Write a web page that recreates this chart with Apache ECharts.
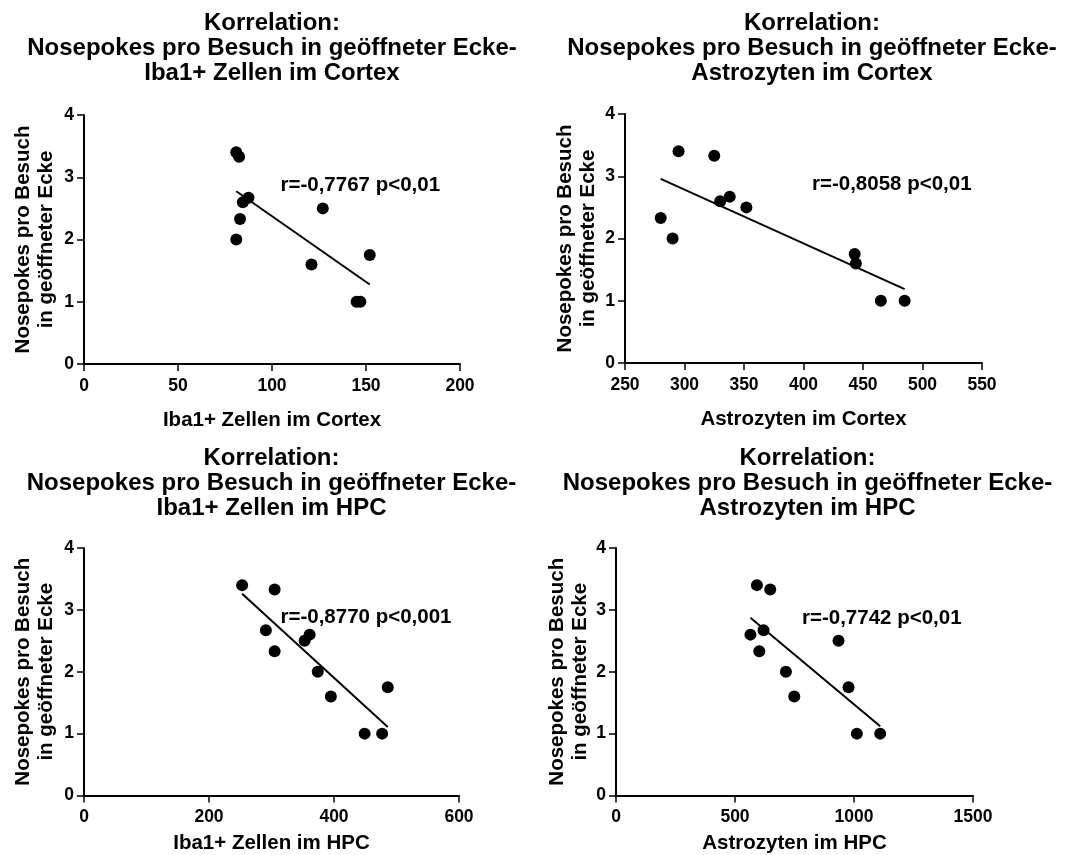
<!DOCTYPE html>
<html>
<head>
<meta charset="utf-8">
<script src="https://cdn.jsdelivr.net/npm/echarts@6/dist/echarts.min.js"></script>
<style>
  html, body { margin: 0; padding: 0; background: #fff; }
  #chart { width: 1068px; height: 855px; }
</style>
</head>
<body>
<div id="chart"></div>
<script>
// Nosepokes per visit in the opened corner (same animals in every panel)
const nosepokes = [3.4, 3.33, 2.67, 2.6, 2.5, 2.33, 2.0, 1.75, 1.6, 1.0, 1.0];

// Cell counts per animal, same order as nosepokes
const iba1Cortex  = [81, 82.5, 87.5, 84.5, 127, 83, 81, 152, 121, 145, 147];
const astroCortex = [295, 325, 338, 330, 352, 280, 290, 443, 444, 465, 485];
const iba1HPC     = [253, 305, 291, 361, 353, 305, 374, 486, 395, 449, 477];
const astroHPC    = [592, 648, 620, 565, 935, 602, 714, 977, 749, 1012, 1110];

// Panel texts
const panelTitles = [
  'Korrelation:\nNosepokes pro Besuch in geöffneter Ecke-\nIba1+ Zellen im Cortex',
  'Korrelation:\nNosepokes pro Besuch in geöffneter Ecke-\nAstrozyten im Cortex',
  'Korrelation:\nNosepokes pro Besuch in geöffneter Ecke-\nIba1+ Zellen im HPC',
  'Korrelation:\nNosepokes pro Besuch in geöffneter Ecke-\nAstrozyten im HPC'
];
const xNames = ['Iba1+ Zellen im Cortex', 'Astrozyten im Cortex', 'Iba1+ Zellen im HPC', 'Astrozyten im HPC'];
const yName = 'Nosepokes pro Besuch\nin geöffneter Ecke';
const statLabels = ['r=-0,7767 p<0,01', 'r=-0,8058 p<0,01', 'r=-0,8770 p<0,001', 'r=-0,7742 p<0,01'];

// X axis ranges: [min, max, interval]
const xRanges = [[0, 200, 50], [250, 550, 50], [0, 600, 200], [0, 1500, 500]];
const yRange = [0, 4, 1];

const xSets = [iba1Cortex, astroCortex, iba1HPC, astroHPC];

// Panel layout
const layout = [
  { grid: { left: 84, top: 115, width: 376, height: 249 }, titleX: 272, titleY: 10.5, nameGapX: 45.5, nameGapY: 26.5, statX: 280.5, statY: 185 },
  { grid: { left: 625, top: 114, width: 357, height: 249 }, titleX: 812, titleY: 10.5, nameGapX: 45.5, nameGapY: 25, statX: 812, statY: 184.5 },
  { grid: { left: 84, top: 548, width: 375, height: 249.5 }, titleX: 271.5, titleY: 445.5, nameGapX: 37.5, nameGapY: 26.5, statX: 280.5, statY: 617 },
  { grid: { left: 616, top: 548, width: 357, height: 249.5 }, titleX: 807.5, titleY: 445.5, nameGapX: 37.5, nameGapY: 24.5, statX: 802, statY: 618 }
];

const FONT = '"Liberation Sans", Arial, Helvetica, sans-serif';

// Least-squares fit, drawn across the observed x range
function fitLine(xs, ys) {
  const n = xs.length;
  const mx = xs.reduce((a, b) => a + b, 0) / n;
  const my = ys.reduce((a, b) => a + b, 0) / n;
  let sxy = 0, sxx = 0;
  for (let i = 0; i < n; i++) {
    sxy += (xs[i] - mx) * (ys[i] - my);
    sxx += (xs[i] - mx) * (xs[i] - mx);
  }
  const b = sxy / sxx;
  const a = my - b * mx;
  const x0 = Math.min(...xs), x1 = Math.max(...xs);
  return [[x0, a + b * x0], [x1, a + b * x1]];
}

const axisLine = { show: true, onZero: false, lineStyle: { color: '#000', width: 2 } };
const axisTick = { show: true, inside: false, length: 7, lineStyle: { color: '#000', width: 1.5 } };
const plainNumber = v => String(v);

const grids = [], xAxes = [], yAxes = [], series = [], titles = [], graphics = [];

layout.forEach((L, i) => {
  grids.push(Object.assign({ containLabel: false }, L.grid));
  const xr = xRanges[i];
  xAxes.push({
    gridIndex: i, type: 'value', min: xr[0], max: xr[1], interval: xr[2],
    name: xNames[i], nameLocation: 'middle', nameGap: L.nameGapX,
    nameTextStyle: { fontFamily: FONT, fontWeight: 'bold', fontSize: 20.5, color: '#000', verticalAlign: 'top' },
    axisLine: axisLine, axisTick: axisTick,
    axisLabel: { margin: 13, fontFamily: FONT, fontWeight: 'bold', fontSize: 17.5, color: '#000', formatter: plainNumber },
    splitLine: { show: false }
  });
  yAxes.push({
    gridIndex: i, type: 'value', min: yRange[0], max: yRange[1], interval: yRange[2],
    name: yName, nameLocation: 'middle', nameGap: L.nameGapY,
    nameTextStyle: { fontFamily: FONT, fontWeight: 'bold', fontSize: 20.5, lineHeight: 23, color: '#000' },
    axisLine: axisLine, axisTick: axisTick,
    axisLabel: { margin: 10, fontFamily: FONT, fontWeight: 'bold', fontSize: 17.5, color: '#000', formatter: plainNumber },
    splitLine: { show: false }
  });
  const pts = xSets[i].map((x, k) => [x, nosepokes[k]]);
  series.push({
    type: 'line', xAxisIndex: i, yAxisIndex: i,
    data: fitLine(xSets[i], nosepokes),
    symbol: 'none', silent: true,
    lineStyle: { color: '#000', width: 2 },
    z: 2
  });
  series.push({
    type: 'scatter', xAxisIndex: i, yAxisIndex: i,
    data: pts, symbol: 'circle', symbolSize: 12,
    itemStyle: { color: '#000', opacity: 1 },
    z: 3
  });
  titles.push({
    text: panelTitles[i], left: L.titleX, top: L.titleY, textAlign: 'center', padding: 0,
    textStyle: { fontFamily: FONT, fontWeight: 'bold', fontSize: 24, lineHeight: 25, color: '#000' }
  });
  graphics.push({
    type: 'text', x: L.statX, y: L.statY,
    style: { text: statLabels[i], font: 'bold 20.5px ' + FONT, fill: '#000', align: 'left', verticalAlign: 'middle' }
  });
});

const chart = echarts.init(document.getElementById('chart'), null, { renderer: 'canvas' });
chart.setOption({
  backgroundColor: '#fff',
  animation: false,
  title: titles,
  grid: grids,
  xAxis: xAxes,
  yAxis: yAxes,
  series: series,
  graphic: graphics
});
</script>
</body>
</html>
